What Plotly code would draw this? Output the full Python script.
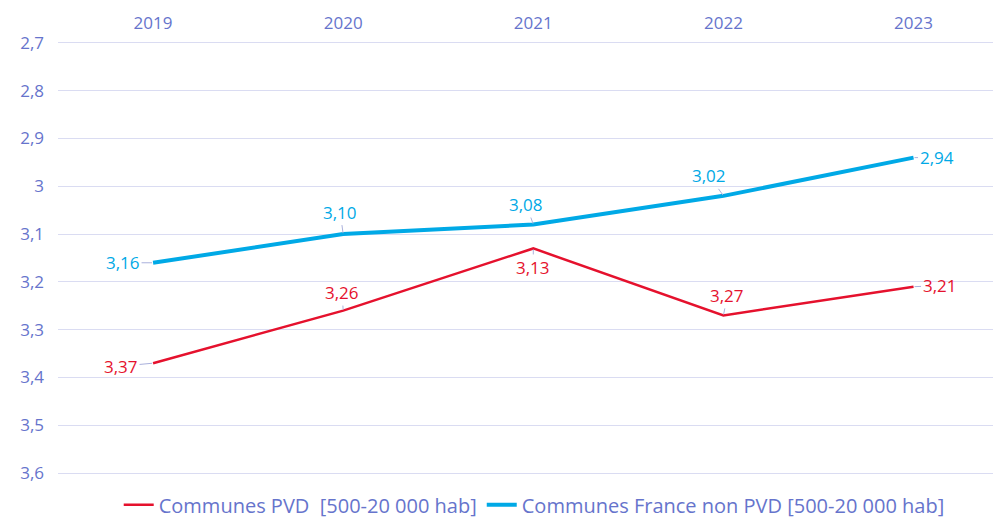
import plotly.graph_objects as go

years = ["2019", "2020", "2021", "2022", "2023"]
pvd = [3.37, 3.26, 3.13, 3.27, 3.21]
non_pvd = [3.16, 3.10, 3.08, 3.02, 2.94]
y_ticks = [2.7, 2.8, 2.9, 3.0, 3.1, 3.2, 3.3, 3.4, 3.5, 3.6]
y_tick_text = ["2,7", "2,8", "2,9", "3", "3,1", "3,2", "3,3", "3,4", "3,5", "3,6"]
name_pvd = "Communes PVD  [500-20 000 hab]"
name_non = "Communes France non PVD [500-20 000 hab]"

RED = "#e5112d"
BLUE = "#00a9e6"
AXIS = "#6674cc"
GRID = "#dadcf2"
FONT = "Open Sans, sans-serif"

fig = go.Figure()
fig.add_trace(go.Scatter(x=years, y=pvd, mode="lines", name=name_pvd,
                         line=dict(color=RED, width=2.5)))
fig.add_trace(go.Scatter(x=years, y=non_pvd, mode="lines", name=name_non,
                         line=dict(color=BLUE, width=4)))

def fmt(v):
    return f"{v:.2f}".replace(".", ",")

pvd_off = [(-32, 3), (-1, -18), (0, 19), (4, -20), (26, -1)]
non_off = [(-30, 0), (-3, -22), (-7, -20), (-14, -20), (23, 0)]
for vals, offs, col in [(pvd, pvd_off, RED), (non_pvd, non_off, BLUE)]:
    for i, (v, (ax, ay)) in enumerate(zip(vals, offs)):
        fig.add_annotation(x=i, y=v, xref="x", yref="y", text=fmt(v),
                           showarrow=True, arrowhead=0,
                           arrowwidth=1, arrowcolor="#aab1dc", ax=ax, ay=ay,
                           font=dict(color=col, size=17, family=FONT), standoff=1)

fig.update_layout(
    width=993, height=510,
    margin=dict(l=50, r=0, t=32, b=42, autoexpand=False),
    paper_bgcolor="white", plot_bgcolor="white",
    font=dict(family=FONT, color=AXIS),
    showlegend=True,
    legend=dict(orientation="h", x=0.505, xanchor="center", y=-0.066, yanchor="middle",
                font=dict(size=20, color=AXIS, family=FONT), itemwidth=30,
                tracegroupgap=0),
    xaxis=dict(type="category", side="top", showgrid=False, zeroline=False,
               showline=False, automargin=False,
               tickfont=dict(size=17, color=AXIS), range=[-0.5, 4.46], ticks="", ticklen=0,
               ticklabelstandoff=7),
    yaxis=dict(range=[3.606, 2.694], tickvals=y_ticks, ticktext=y_tick_text,
               showgrid=True, gridcolor=GRID, gridwidth=1, zeroline=False, automargin=False,
               tickfont=dict(size=17, color=AXIS), ticks="", ticklen=0, showline=False,
               ticklabelstandoff=13),
)

fig.write_html("out.html")
